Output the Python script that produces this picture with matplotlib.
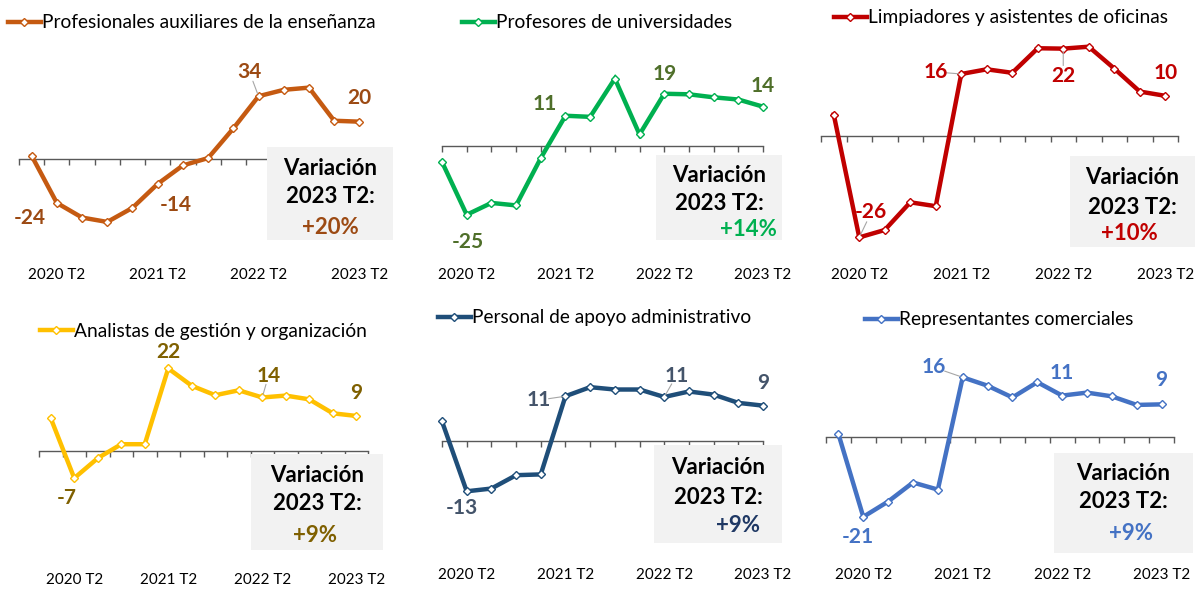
import numpy as np
import matplotlib
matplotlib.use('Agg')
import matplotlib.pyplot as plt
import matplotlib.transforms as mtransforms
from matplotlib.lines import Line2D
from matplotlib.patches import Rectangle

plt.rcParams['font.family'] = ['Lato', 'DejaVu Sans']

# 14 trimestres: 2020 T1 ... 2023 T2
quarters = [f'{y} T{q}' for y in (2020, 2021, 2022, 2023) for q in (1, 2, 3, 4)][:14]
tick_idx = [1, 5, 9, 13]
tick_labels = [quarters[i] for i in tick_idx]

titles = ['Profesionales auxiliares de la enseñanza', 'Profesores de universidades',
          'Limpiadores y asistentes de oficinas', 'Analistas de gestión y organización',
          'Personal de apoyo administrativo', 'Representantes comerciales']

prof_aux = [1.8, -24, -32, -34.4, -26.7, -13.6, -3.5, 0.5, 16.7, 34.3, 37.8, 39, 20.9, 20.4]
prof_univ = [-5.8, -25, -20.7, -21.6, -4.4, 11, 10.6, 24.5, 4.2, 19, 18.8, 17.7, 16.9, 14.3]
limpiadores = [5.5, -26, -24.1, -17, -18, 15.9, 17.1, 16.2, 22.5, 22.4, 22.9, 17.3, 11.4, 10.3]
analistas = [8.7, -7.2, -1.9, 1.8, 1.8, 21.9, 17.3, 14.8, 16.1, 14.2, 14.7, 13.7, 10, 9.3]
apoyo_adm = [5, -12.8, -12.1, -8.7, -8.5, 11.4, 13.7, 13.1, 13.1, 11.2, 12.6, 11.8, 9.7, 9.0]
repr_com = [0.8, -21.4, -17.3, -12.2, -14.1, 16, 13.75, 10.6, 14.7, 11.1, 11.9, 10.9, 8.6, 8.75]

variacion = [20, 14, 10, 9, 9, 9]

line_colors = ['#C55A11', '#00B050', '#C00000', '#FFC000', '#1F4E79', '#4472C4']
label_colors = ['#9C4A13', '#4F6F2A', '#C00000', '#7F6000', '#44546A', '#4472C4']
pct_colors = ['#9C4A13', '#00B050', '#C00000', '#7F6000', '#1F3864', '#4472C4']

W, H = 1195, 589

# layout in pixels: spine x-range, zero y, px per unit, ticks between points?
panels = [
    dict(data=prof_aux, x0=19, x1=372, zero=159, scale=1.83, between=True, top=40, bot=255,
         lab=[(1, -27, 15), (5, 18, 21), (9, -9, -24), (13, 0, -24)], leader=[9],
         leg=(8, 23), box=(267, 147, 393, 240), txt_y=(169, 197, 227), pct_dx=0, lab_y=275),
    dict(data=prof_univ, x0=442, x1=763, zero=146, scale=2.75, between=False, top=40, bot=255,
         lab=[(1, 1, 27), (5, -21, -12), (9, 0, -20), (13, 0, -21)], leader=[],
         leg=(462, 23), box=(656, 155, 782, 240), txt_y=(176, 203, 230), pct_dx=29, lab_y=275),
    dict(data=limpiadores, x0=821, x1=1178, zero=136, scale=3.9, between=True, top=40, bot=255,
         lab=[(1, 12, -25), (5, -25, -2), (9, 0, 27), (13, 0, -23)], leader=[1, 5, 9],
         leg=(834, 18), box=(1070, 156, 1195, 247), txt_y=(178, 207, 233), pct_dx=-3, lab_y=275),
    dict(data=analistas, x0=39, x1=368, zero=451, scale=3.77, between=True, top=345, bot=560,
         lab=[(1, -8, 20), (5, 0, -16), (9, 6, -21), (13, 0, -23)], leader=[9],
         leg=(40, 331), box=(251, 454, 383, 550), txt_y=(476, 504, 535), pct_dx=-2, lab_y=580),
    dict(data=apoyo_adm, x0=442, x1=763, zero=441, scale=3.93, between=False, top=345, bot=560,
         lab=[(1, -5, 17), (5, -27, 4), (9, 12, -21), (13, 0, -23)], leader=[5, 9],
         leg=(438, 318), box=(654, 445, 782, 543), txt_y=(468, 497, 526), pct_dx=20, lab_y=575),
    dict(data=repr_com, x0=826, x1=1174, zero=437, scale=3.73, between=True, top=345, bot=560,
         lab=[(1, -5, 20), (5, -29, -10), (9, 0, -23), (13, 0, -24)], leader=[5],
         leg=(865, 320), box=(1054, 453, 1193, 553), txt_y=(473, 502, 533), pct_dx=8, lab_y=575),
]

fig = plt.figure(figsize=(W / 100, H / 100), dpi=100)
fig_tr = fig.transFigure

for k, p in enumerate(panels):
    vals = np.array(p['data'])
    n = len(vals)
    ax = fig.add_axes([p['x0'] / W, 1 - p['bot'] / H,
                       (p['x1'] - p['x0']) / W, (p['bot'] - p['top']) / H])
    ax.set_ylim(-(p['bot'] - p['zero']) / p['scale'], (p['zero'] - p['top']) / p['scale'])
    if p['between']:
        ax.set_xlim(-0.5, n - 0.5)
        ticks = np.arange(-0.5, n, 1.0)
    else:
        ax.set_xlim(0, n - 1)
        ticks = np.arange(n)
    for s in ['top', 'right', 'left']:
        ax.spines[s].set_visible(False)
    ax.spines['bottom'].set_position(('data', 0))
    ax.spines['bottom'].set_color('#595959')
    ax.spines['bottom'].set_linewidth(1.0)
    ax.set_xticks(ticks)
    ax.set_xticklabels([])
    ax.tick_params(axis='x', direction='out', length=4, width=1, color='#595959')
    ax.set_yticks([])
    ax.patch.set_alpha(0)

    c = line_colors[k]
    ax.plot(np.arange(n), vals, color=c, lw=3.2, marker='D', ms=4.5, mfc='white',
            mec=c, mew=1.0, clip_on=False, zorder=3, solid_joinstyle='miter')

    # etiquetas del eje x
    tr = mtransforms.blended_transform_factory(ax.transData, fig_tr)
    for i, t in zip(tick_idx, tick_labels):
        ax.text(i, 1 - p['lab_y'] / H, t, transform=tr, ha='center', va='center',
                fontsize=11, color='black')

    # etiquetas de valores
    for (i, dx, dy) in p['lab']:
        ax.annotate(f'{round(vals[i]):.0f}', xy=(i, vals[i]), xytext=(dx * 0.72, -dy * 0.72),
                    textcoords='offset points', ha='center', va='center', fontsize=15,
                    fontweight='bold', color=label_colors[k], zorder=4)
        if i in p['leader']:
            ax.annotate('', xy=(i, vals[i]), xytext=(dx * 0.45, -dy * 0.45),
                        textcoords='offset points',
                        arrowprops=dict(arrowstyle='-', color='#A6A6A6', lw=0.8,
                                        shrinkA=0, shrinkB=2))

    # leyenda
    h = Line2D([], [], color=c, lw=3.2, marker='D', ms=4.5, mfc='white', mec=c, mew=1.0)
    fig.legend([h], [titles[k]], loc='center left',
               bbox_to_anchor=(p['leg'][0] / W, 1 - p['leg'][1] / H), frameon=False,
               fontsize=13.8, handlelength=1.7, handletextpad=0.1, borderpad=0,
               borderaxespad=0, numpoints=1)

    # recuadro de variación
    bx0, by0, bx1, by1 = p['box']
    fig.patches.append(Rectangle((bx0 / W, 1 - by1 / H), (bx1 - bx0) / W, (by1 - by0) / H,
                                 transform=fig_tr, facecolor='#F2F2F2', edgecolor='none',
                                 zorder=1))
    cx = (bx0 + bx1) / 2
    ty = p['txt_y']
    fig.text(cx / W, 1 - ty[0] / H, 'Variación', ha='center', va='center', fontsize=16,
             fontweight='bold', color='black')
    fig.text(cx / W, 1 - ty[1] / H, '2023 T2:', ha='center', va='center', fontsize=16,
             fontweight='bold', color='black')
    fig.text((cx + p['pct_dx']) / W, 1 - ty[2] / H, f'+{variacion[k]}%', ha='center',
             va='center', fontsize=16, fontweight='bold', color=pct_colors[k])

fig.savefig('out.png', dpi=100)
